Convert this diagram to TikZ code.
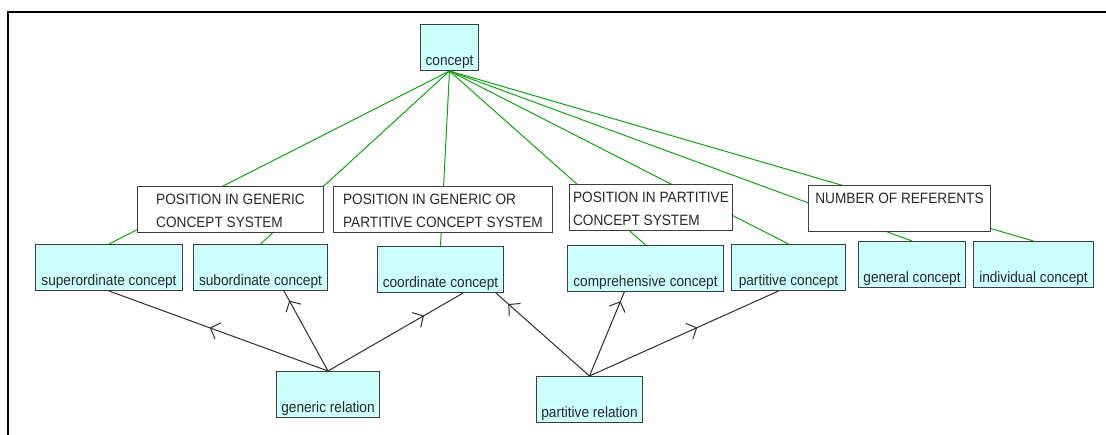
\documentclass[tikz,border=0pt]{standalone}
\usepackage{fontspec}
\setmainfont{Liberation Sans}[FakeStretch=0.91]
\usetikzlibrary{arrows.meta,decorations.markings,backgrounds,calc}

\definecolor{cfill}{RGB}{204,255,255}
\definecolor{edgeg}{RGB}{20,160,20}
\definecolor{boxline}{RGB}{60,60,60}
\definecolor{relc}{RGB}{45,45,45}
\definecolor{txt}{RGB}{40,40,40}

\tikzset{
  cbox/.style={draw=boxline, fill=cfill, line width=1pt, inner xsep=0pt, inner ysep=0pt,
    text depth=5pt, text height=41pt, anchor=north west, text=txt,
    font=\fontsize{15}{17}\selectfont},
  wbox/.style={draw=boxline, fill=white, line width=1pt, minimum height=46pt,
    anchor=north west, inner sep=0pt},
  wlabel/.style={anchor=north, align=left, inner sep=0pt, text=txt,
    font=\fontsize{15}{23}\selectfont},
  genline/.style={draw=edgeg, line width=1pt},
  rel/.style={draw=relc, line width=1pt, postaction=decorate,
    decoration={markings, mark=at position #1 with
      {\arrow{Straight Barb[length=8pt,width=17pt]}}}},
}

\begin{document}
\begin{tikzpicture}[x=1pt,y=-1pt]
\useasboundingbox (0,0) rectangle (1106,435);

% outer frame (top and left edges)
\coordinate (fbl) at (7.5,435);
\coordinate (ftr) at (1106,12);
\draw[line width=2pt] (fbl) |- (ftr);

% root concept
\node[cbox, minimum width=58pt] (concept) at (420,24) {concept};

% characteristic boxes
\node[wbox, minimum width=186pt] (d1) at (137,186) {};
\node[wbox, minimum width=219pt] (d2) at (333,186) {};
\node[wbox, minimum width=163pt] (d3) at (569,184) {};
\node[wbox, minimum width=182pt] (d4) at (808,185) {};
\node[wlabel] (d1t) at ($(d1.north)+(0,8)$) {POSITION IN GENERIC\\CONCEPT SYSTEM};
\node[wlabel] (d2t) at ($(d2.north)+(0,8)$) {POSITION IN GENERIC OR\\PARTITIVE CONCEPT SYSTEM};
\node[wlabel] (d3t) at ($(d3.north)+(0,8)$) {POSITION IN PARTITIVE\\CONCEPT SYSTEM};
\node[wlabel] (d4t) at ($(d4.north)+(0,8)$) {NUMBER OF REFERENTS};

% subdivided concepts
\node[cbox, minimum width=147pt] (super) at (35,244) {superordinate concept};
\node[cbox, minimum width=134pt] (sub) at (193,244) {subordinate concept};
\node[cbox, minimum width=126pt] (coord) at (377,246) {coordinate concept};
\node[cbox, minimum width=156pt] (comp) at (567,245) {comprehensive concept};
\node[cbox, minimum width=114pt] (part) at (731,244) {partitive concept};
\node[cbox, minimum width=107pt] (gen) at (858,241) {general concept};
\node[cbox, minimum width=120pt] (ind) at (973,241) {individual concept};

% relations
\node[cbox, minimum width=103pt] (genrel) at (276,371) {generic relation};
\node[cbox, minimum width=106pt] (partrel) at (536,376) {partitive relation};

% concept to its subdivisions, passing behind the characteristic boxes
\begin{scope}[on background layer]
  \foreach \t in {super,sub,coord,comp,part,gen,ind}
    \draw[genline] (concept.south) -- (\t.north);
\end{scope}

% relation links
\draw[rel=0.54] (genrel.north) -- (super.south);
\draw[rel=0.88] (genrel.north) -- (sub.-45);
\draw[rel=0.71] (genrel.north) -- (coord.-46);
\draw[rel=0.87] (partrel.north) -- (coord.-23);
\draw[rel=0.89] (partrel.north) -- (comp.-132);
\draw[rel=0.57] (partrel.north) -- (part.-113);
\end{tikzpicture}
\end{document}
